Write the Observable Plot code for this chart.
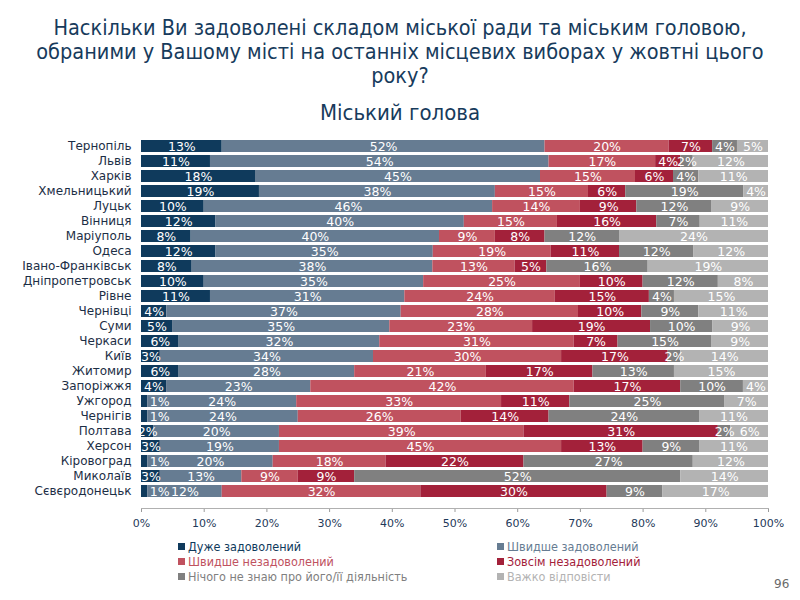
<!DOCTYPE html>
<html>
<head>
<meta charset="utf-8">
<script src="https://cdn.jsdelivr.net/npm/d3@7"></script>
<script src="https://cdn.jsdelivr.net/npm/@observablehq/plot@0.6"></script>
<style>
  html, body { margin: 0; padding: 0; background: #fff; }
  #wrap { position: relative; width: 800px; height: 600px; overflow: hidden; font-family: "DejaVu Sans", sans-serif; }
  #title { position: absolute; left: 0; top: 16px; width: 800px; text-align: center; font-family: "DejaVu Sans Condensed", "DejaVu Sans", sans-serif; font-stretch: condensed; font-size: 21.5px; line-height: 24px; color: #173b5c; }
  #subtitle { position: absolute; left: 0; top: 100px; width: 800px; text-align: center; font-family: "DejaVu Sans Condensed", "DejaVu Sans", sans-serif; font-stretch: condensed; font-size: 22px; line-height: 26px; color: #173b5c; }
  #chart { position: absolute; left: 0; top: 125px; }
  #legend { position: absolute; left: 0; top: 539px; width: 800px; font-size: 12.5px; font-family: "DejaVu Sans Condensed", "DejaVu Sans", sans-serif; font-stretch: condensed; }
  .li { position: absolute; white-space: nowrap; line-height: 15px; }
  .sw { display: inline-block; width: 7px; height: 7px; margin-right: 3px; vertical-align: 1px; }
  #page { position: absolute; left: 774px; top: 577px; font-size: 12px; color: #6a6a6a; }
</style>
</head>
<body>
<div id="wrap">
  <div id="title">Наскільки Ви задоволені складом міської ради та міським головою,<br>обраними у Вашому місті на останніх місцевих виборах у жовтні цього<br>року?</div>
  <div id="subtitle">Міський голова</div>
  <div id="chart"></div>
  <div id="legend"></div>
  <div id="page">96</div>
</div>
<script>
const cities = ["Тернопіль","Львів","Харків","Хмельницький","Луцьк","Вінниця","Маріуполь","Одеса","Івано-Франківськ","Дніпропетровськ","Рівне","Чернівці","Суми","Черкаси","Київ","Житомир","Запоріжжя","Ужгород","Чернігів","Полтава","Херсон","Кіровоград","Миколаїв","Сєвєродонецьк"];
const categories = ["Дуже задоволений","Швидше задоволений","Швидше незадоволений","Зовсім незадоволений","Нічого не знаю про його/її діяльність","Важко відповісти"];
const colors = ["#0f3a5c","#667c92","#c0525f","#a3213a","#808080","#b3b3b3"];
const veryHappy    = [13,11,18,19,10,12, 8,12, 8,10,11, 4, 5, 6, 3, 6, 4, 1, 1, 2, 3, 1, 3, 1];
const ratherHappy  = [52,54,45,38,46,40,40,35,38,35,31,37,35,32,34,28,23,24,24,20,19,20,13,12];
const ratherUnhappy= [20,17,15,15,14,15, 9,19,13,25,24,28,23,31,30,21,42,33,26,39,45,18, 9,32];
const veryUnhappy  = [ 7, 4, 6, 6, 9,16, 8,11, 5,10,15,10,19, 7,17,17,17,11,14,31,13,22, 9,30];
const knowNothing  = [ 4, 2, 4,19,12, 7,12,12,16,12, 4, 9,10,15, 2,13,10,25,24, 2, 9,27,52, 9];
const hardToSay    = [ 5,12,11, 4, 9,11,24,12,19, 8,15,11, 9, 9,14,15, 4, 7,11, 6,11,12,14,17];
const xTicks = [0,10,20,30,40,50,60,70,80,90,100];

const series = [veryHappy, ratherHappy, ratherUnhappy, veryUnhappy, knowNothing, hardToSay];
const data = [];
cities.forEach((c, i) => categories.forEach((k, j) => data.push({city: c, cat: k, value: series[j][i]})));

const stackOpts = {offset: "normalize", x: "value", y: "city", z: "cat", order: categories};

const chart = Plot.plot({
  width: 800,
  height: 408,
  marginLeft: 141,
  marginRight: 32,
  marginTop: 3.5,
  marginBottom: 25,
  style: {fontFamily: "DejaVu Sans, sans-serif", background: "transparent"},
  x: {domain: [0, 1], axis: null},
  y: {domain: cities, padding: 0.2, axis: null},
  color: {domain: categories, range: colors},
  marks: [
    Plot.barX(data, Plot.stackX({...stackOpts, fill: "cat"})),
    Plot.text(data, Plot.stackX({...stackOpts, text: d => d.value >= 2 ? d.value + "%" : "", fill: "white", fontSize: 12.5})),
    Plot.text(data, Plot.stackX2({...stackOpts, text: d => d.value < 2 ? d.value + "%" : "", fill: "white", fontSize: 12.5, textAnchor: "start", dx: 2})),
    Plot.axisY({tickSize: 0, tickPadding: 10, fontSize: 12, color: "#1c2e45", label: null}),
    Plot.axisX({ticks: xTicks.map(d => d / 100), tickFormat: d => Math.round(d * 100) + "%", tickSize: 4, tickPadding: 7, fontSize: 11, color: "#1f3a5a", stroke: "#9a9a9a", label: null}),
    Plot.frame({anchor: "bottom", stroke: "#b0b0b0"})
  ]
});
document.getElementById("chart").appendChild(chart);

// legend
const legend = document.getElementById("legend");
const pos = [[178,0],[497,0],[178,15],[497,15],[178,30],[497,30]];
categories.forEach((k, j) => {
  const el = document.createElement("div");
  el.className = "li";
  el.style.left = pos[j][0] + "px";
  el.style.top = pos[j][1] + "px";
  el.style.color = colors[j];
  el.innerHTML = `<span class="sw" style="background:${colors[j]}"></span>${k}`;
  legend.appendChild(el);
});
</script>
</body>
</html>
